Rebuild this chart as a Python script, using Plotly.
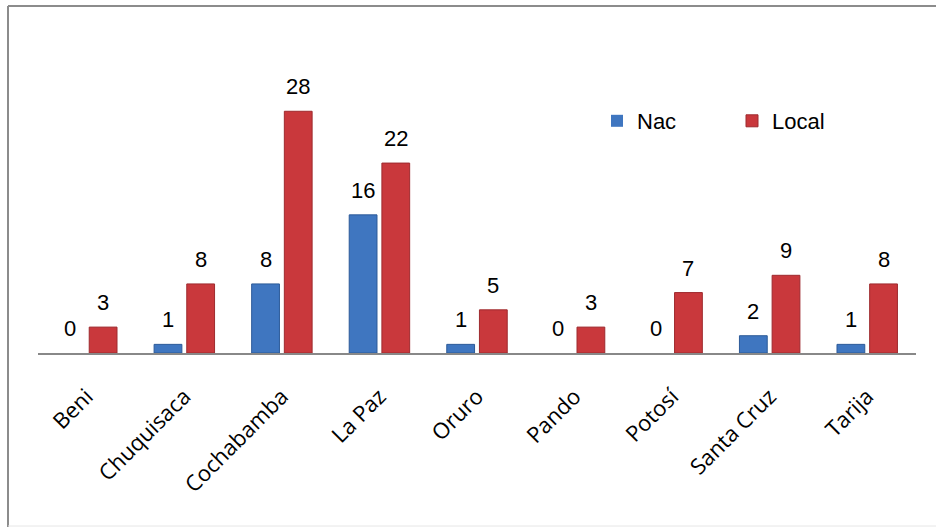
import plotly.graph_objects as go

categories = ["Beni", "Chuquisaca", "Cochabamba", "La Paz", "Oruro", "Pando", "Potosí", "Santa Cruz", "Tarija"]
nac = [0, 1, 8, 16, 1, 0, 0, 2, 1]
local = [3, 8, 28, 22, 5, 3, 7, 9, 8]

W, H = 936, 527
L, R, T, B = 38, 20, 94, 174
pw, ph = W - L - R, H - T - B
BARGAP = 0.33
GROUPGAP = 0.15

def px(x):
    return (x - L) / pw

def py(y):
    return (H - B - y) / ph

fig = go.Figure()
fig.add_trace(go.Bar(
    name="Nac", x=categories, y=nac,
    marker=dict(color="#3F76C0",
                line=dict(color="#2C5A98", width=[0 if v == 0 else 1 for v in nac])),
    cliponaxis=False,
))
fig.add_trace(go.Bar(
    name="Local", x=categories, y=local,
    marker=dict(color="#C9383C",
                line=dict(color="#9E2A2E", width=[0 if v == 0 else 1 for v in local])),
    cliponaxis=False,
))

# value labels above each bar
slot = pw / len(categories) * (1 - BARGAP) / 2
annotations = []
for series, sign in ((nac, -1), (local, 1)):
    for cat, v in zip(categories, series):
        annotations.append(dict(
            x=cat, y=v, xref="x", yref="y", text=str(v), showarrow=False,
            xshift=sign * slot / 2, yshift=10, yanchor="bottom",
            font=dict(family="Liberation Sans", size=22, color="#000"),
        ))

fig.update_layout(
    width=W, height=H,
    margin=dict(l=L, r=R, t=T, b=B, autoexpand=False),
    paper_bgcolor="white", plot_bgcolor="white",
    barmode="group", bargap=BARGAP, bargroupgap=GROUPGAP,
    showlegend=True,
    legend=dict(
        orientation="h", x=px(597), y=py(121), xanchor="left", yanchor="middle",
        font=dict(family="Liberation Sans", size=22, color="#000"),
        entrywidth=90, entrywidthmode="pixels", bgcolor="rgba(0,0,0,0)",
        traceorder="normal",
    ),
    xaxis=dict(
        showline=True, linecolor="#888888", linewidth=2, showgrid=False,
        ticks="", tickangle=-45,
        tickfont=dict(family="Open Sans", size=22, color="#000"),
        ticklabelstandoff=20,
    ),
    yaxis=dict(range=[0, 30], visible=False, showgrid=False, zeroline=False),
    annotations=annotations,
    shapes=[
        dict(type="line", xref="paper", yref="paper", x0=px(8), x1=px(960), y0=py(6), y1=py(6),
             line=dict(color="#8C8C8C", width=2)),
        dict(type="line", xref="paper", yref="paper", x0=px(8), x1=px(8), y0=py(6), y1=py(530),
             line=dict(color="#8C8C8C", width=2)),
        dict(type="line", xref="paper", yref="paper", x0=px(8), x1=px(960), y0=py(526), y1=py(526),
             line=dict(color="#E6E6E6", width=1)),
    ],
)

fig.write_html("out.html", config={"displayModeBar": False},
               post_script="document.body.style.margin='0px';")
